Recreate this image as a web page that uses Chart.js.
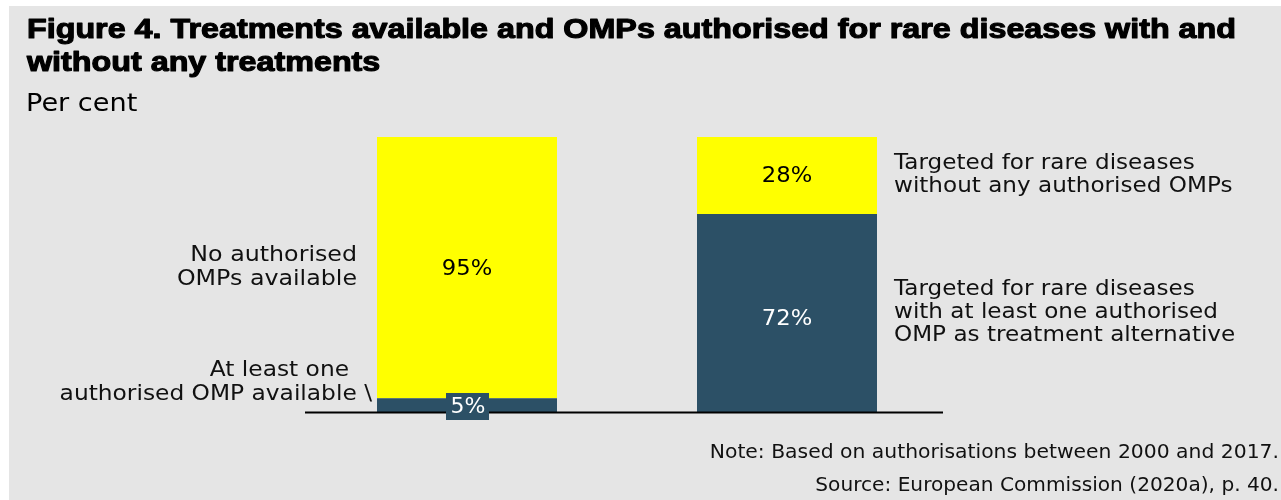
<!DOCTYPE html>
<html>
<head>
<meta charset="utf-8">
<script src="https://cdn.jsdelivr.net/npm/chart.js@4"></script>
<style>
  html, body { margin: 0; padding: 0; background: #ffffff; }
  #wrap { position: absolute; left: 0; top: 0; width: 1281px; height: 500px; }
</style>
</head>
<body>
<div id="wrap"><canvas id="c" width="1281" height="500"></canvas></div>
<script>
// ---- data ----
const categories = ['All rare diseases', 'OMPs authorised'];
const withOmpValues = [5, 72];      // dark blue (bottom)
const withoutOmpValues = [95, 28];  // yellow (top)
const seriesNames = ['At least one authorised OMP', 'No authorised OMP'];

const titleLines = [
  'Figure 4. Treatments available and OMPs authorised for rare diseases with and',
  'without any treatments'
];
const subtitle = 'Per cent';
const leftTopLabel = ['No authorised', 'OMPs available'];
const leftBottomLabel = ['At least one', 'authorised OMP available \\'];
const rightTopLabel = ['Targeted for rare diseases', 'without any authorised OMPs'];
const rightBottomLabel = ['Targeted for rare diseases', 'with at least one authorised', 'OMP as treatment alternative'];
const noteLines = ['Note: Based on authorisations between 2000 and 2017.', 'Source: European Commission (2020a), p. 40.'];

const BLUE = '#2C5066';
const YELLOW = '#FFFF00';
const BG = '#E5E5E5';
const BODY_FONT = '"DejaVu Sans", sans-serif';

// draw text with horizontal stretch (font is narrower than the reference face)
function drawText(ctx, text, x, y, align, hs, stroke) {
  const w = ctx.measureText(text).width * hs;
  let left = x;
  if (align === 'right') left = x - w;
  else if (align === 'center') left = x - w / 2;
  ctx.save();
  ctx.textAlign = 'left';
  ctx.translate(left, y);
  ctx.scale(hs, 1);
  ctx.fillText(text, 0, 0);
  if (stroke) ctx.strokeText(text, 0, 0);
  ctx.restore();
}

const decor = {
  id: 'decor',
  beforeDraw(chart) {
    const ctx = chart.ctx;
    ctx.save();
    ctx.fillStyle = '#ffffff';
    ctx.fillRect(0, 0, chart.width, chart.height);
    ctx.fillStyle = BG;
    ctx.fillRect(9, 6, chart.width - 9, chart.height - 6);
    ctx.restore();
  },
  afterDatasetsDraw(chart) {
    const ctx = chart.ctx;
    const x = chart.scales.x, y = chart.scales.y;
    const area = chart.chartArea;
    ctx.save();
    // title
    ctx.fillStyle = '#000';
    ctx.textBaseline = 'middle';
    ctx.font = 'bold 27px "Liberation Sans", Arial, sans-serif';
    ctx.strokeStyle = '#000';
    ctx.lineWidth = 1.1;
    ctx.lineJoin = 'round';
    const tw = ctx.measureText(titleLines[0]).width;
    const ths = 1209 / tw;
    titleLines.forEach((t, i) => drawText(ctx, t, 27, 31 + i * 33, 'left', ths, true));
    // subtitle
    ctx.font = '24px ' + BODY_FONT;
    drawText(ctx, subtitle, 26, 105, 'left', 1.13);

    // baseline
    ctx.strokeStyle = '#000';
    ctx.lineWidth = 2;
    ctx.beginPath();
    ctx.moveTo(area.left - 2, area.bottom + 0.5);
    ctx.lineTo(area.right - 4, area.bottom + 0.5);
    ctx.stroke();

    const cx0 = x.getPixelForValue(0), cx1 = x.getPixelForValue(1);
    const base = y.getPixelForValue(0);

    // value labels
    ctx.font = '22px ' + BODY_FONT;
    ctx.fillStyle = '#000';
    drawText(ctx, withoutOmpValues[0] + '%', cx0, y.getPixelForValue(withOmpValues[0] + withoutOmpValues[0] / 2) + 2, 'center', 1.03);
    drawText(ctx, withoutOmpValues[1] + '%', cx1, y.getPixelForValue(withOmpValues[1] + withoutOmpValues[1] / 2) + 1, 'center', 1.03);
    ctx.fillStyle = '#ffffff';
    drawText(ctx, withOmpValues[1] + '%', cx1, y.getPixelForValue(withOmpValues[1] / 2) + 6, 'center', 1.03);
    // bar 1 blue: label box
    ctx.fillStyle = BLUE;
    ctx.fillRect(cx0 - 21, base - 19, 43, 27);
    ctx.fillStyle = '#ffffff';
    drawText(ctx, withOmpValues[0] + '%', cx0 + 1, base - 5, 'center', 1);

    // left labels
    ctx.fillStyle = '#111';
    ctx.font = '21px ' + BODY_FONT;
    drawText(ctx, leftTopLabel[0], 357, 256, 'right', 1.13);
    drawText(ctx, leftTopLabel[1], 357, 280, 'right', 1.13);
    drawText(ctx, leftBottomLabel[0], 349, 371, 'right', 1.11);
    drawText(ctx, leftBottomLabel[1], 372, 395, 'right', 1.11);

    // right labels
    rightTopLabel.forEach((t, i) => drawText(ctx, t, 894, 164 + i * 23, 'left', 1.1));
    rightBottomLabel.forEach((t, i) => drawText(ctx, t, 894, 290 + i * 23, 'left', 1.1));

    // notes
    ctx.font = '19px ' + BODY_FONT;
    drawText(ctx, noteLines[0], 1279, 453, 'right', 1.07);
    drawText(ctx, noteLines[1], 1279, 486, 'right', 1.06);
    ctx.restore();
  }
};

new Chart(document.getElementById('c'), {
  type: 'bar',
  data: {
    labels: categories,
    datasets: [
      { label: seriesNames[0], data: withOmpValues, backgroundColor: BLUE, borderWidth: 0,
        barPercentage: 0.5625, categoryPercentage: 1 },
      { label: seriesNames[1], data: withoutOmpValues, backgroundColor: YELLOW, borderWidth: 0,
        barPercentage: 0.5625, categoryPercentage: 1 }
    ]
  },
  options: {
    responsive: false,
    animation: false,
    devicePixelRatio: 1,
    layout: { padding: { left: 307, right: 1281 - 947, top: 137, bottom: 500 - 412 } },
    plugins: { legend: { display: false }, tooltip: { enabled: false }, title: { display: false } },
    scales: {
      x: { display: false, stacked: true },
      y: { display: false, stacked: true, min: 0, max: 100 }
    }
  },
  plugins: [decor]
});
</script>
</body>
</html>
